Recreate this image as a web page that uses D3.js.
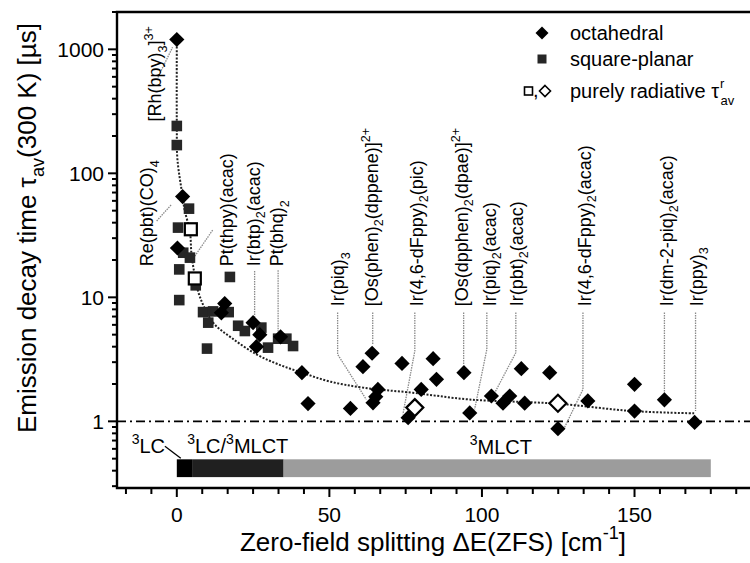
<!DOCTYPE html>
<html><head><meta charset="utf-8">
<script src="https://cdn.jsdelivr.net/npm/d3@7"></script>
<style>body{margin:0;background:#fff}svg{display:block}text{font-family:"Liberation Sans",Arial,sans-serif;fill:#000}</style>
</head><body><svg id="c" width="750" height="563"></svg>
<script>
// ---------------- data ----------------
const octX = [0,1.9,0.2,15.7,14.6,25,27.2,26.1,34,41,43,56.9,61,64,64.3,65.9,65.2,73.8,84,85.1,80.1,75.8,94.1,96,103.1,106.9,109.1,112.9,114,122.2,124.9,134.7,150,150,159.8,169.7];
const octY = [1200,65,25,8.9,7.5,6.25,5.0,4.0,4.8,2.47,1.39,1.27,2.76,3.54,1.41,1.81,1.58,2.93,3.2,2.18,1.81,1.07,2.47,1.17,1.6,1.4,1.6,2.66,1.4,2.47,0.873,1.46,1.99,1.21,1.49,0.98];
const sqX = [0,0,4,0.4,2.1,4.3,0.8,17.4,0.8,6.2,8.6,11.9,10.3,9.9,17,20.1,22.3,27.7,29.9,33.2,35.9,38.1];
const sqY = [241,169,51.9,36.5,22.9,20.9,16.8,14.6,9.5,12.5,7.6,7.7,6.25,3.86,7.6,5.9,5.35,5.7,3.93,4.64,4.64,4.05];
const radSqX = [4.6,5.9], radSqY = [35.4,14.2];
const radDiaX = [78,124.9], radDiaY = [1.29,1.40];
const fitX = [0,0,0.2,1.9,2.6,4.3,4.8,5.9,7.5,11.9,18,26.1,33,41,50,61,77.3,96,124.4,149.4,169.7];
const fitY = [1200,240,130,65,50,34,22.5,15,10.2,6.25,4.7,3.47,2.9,2.47,2.1,1.87,1.7,1.5,1.39,1.21,1.16];
const xMajor = [0,50,100,150];
const yMajor = [1,10,100,1000];
const regionNames = ["^3LC","^3LC/^3MLCT","^3MLCT"];
const regionStart = [0,5,35];
const regionEnd = [5,35,175];
const regionColor = ["#000","#202020","#9c9c9c"];
const labelText = ["[Rh(bpy)_3]^{3+}","Re(pbt)(CO)_4","Pt(thpy)(acac)","Ir(btp)_2(acac)","Pt(bhq)_2",
  "Ir(piq)_3","[Os(phen)_2(dppene)]^{2+}","Ir(4,6-dFppy)_2(pic)","[Os(dpphen)_2(dpae)]^{2+}","Ir(piq)_2(acac)",
  "Ir(pbt)_2(acac)","Ir(4,6-dFppy)_2(acac)","Ir(dm-2-piq)_2(acac)","Ir(ppy)_3"];
const labelX = [-7.2,-9.8,16.3,25,32.8,52.8,63.8,78.5,93.3,102.5,111.3,133.6,160.4,170.2];
const labelBase = [262,17.8,17.8,17.8,17.8,8.46,8.46,8.46,8.46,8.46,8.46,8.46,8.46,8.46];
const leaders = [
  [[-6.2,594],[-1.4,1038]],
  [[-6.6,41.3],[-1.7,56.2]],
  [[5.9,21.5],[11.9,35.3]],
  [[25.5,16.3],[25.5,6.9]],
  [[33.2,16.5],[33.2,5.3]],
  [[52.7,7.56],[52.7,3.47],[62.1,1.5]],
  [[64.2,7.56],[64.2,4.18]],
  [[78,7.56],[78,3.69],[74.1,1.14]],
  [[94,7.56],[94,2.88]],
  [[101.6,7.56],[101.6,3.81],[97.6,1.25]],
  [[111.1,7.56],[111.1,3.58],[104.2,1.70]],
  [[133.1,7.56],[133.1,1.81],[126.5,0.835]],
  [[159.8,7.56],[159.8,1.65]],
  [[170,7.56],[170,1.21]]
];
const legendNames = ["octahedral","square-planar","purely radiative "];

// ---------------- layout ----------------
const W=750,H=563;
const svg=d3.select("#c");
const x=d3.scaleLinear().domain([-19.6,188.5]).range([117,752]);
const y=d3.scaleLog().domain([0.29,2000]).range([488,12]);

function rich(sel,str,size){
  const toks=str.match(/(_\{[^}]*\}|_.|\^\{[^}]*\}|\^.|[^_^]+)/g);
  let off=0;
  toks.forEach(t=>{
    let target=0,txt=t,fs=size;
    if(t[0]==="_"){target=0.3*size;txt=t.slice(1).replace(/[{}]/g,"");fs=size*0.7;}
    else if(t[0]==="^"){target=-0.45*size;txt=t.slice(1).replace(/[{}]/g,"");fs=size*0.7;}
    sel.append("tspan").attr("dy",target-off).attr("font-size",fs).text(txt);
    off=target;
  });
}

// bar regions
svg.append("g").selectAll("rect").data(regionStart).join("rect")
  .attr("x",(d)=>x(d)).attr("width",(d,i)=>x(regionEnd[i])-x(d))
  .attr("y",y(0.494)).attr("height",y(0.355)-y(0.494))
  .attr("fill",(d,i)=>regionColor[i]);

// dash-dot line at 1
svg.append("line").attr("x1",x(-19.6)).attr("x2",W).attr("y1",y(1)).attr("y2",y(1))
  .attr("stroke","#000").attr("stroke-width",1.6).attr("stroke-dasharray","9,4,2,4");

// leaders
const lineGen=d3.line().x(d=>x(d[0])).y(d=>y(d[1]));
svg.append("g").selectAll("path").data(leaders).join("path")
  .attr("d",lineGen).attr("fill","none").attr("stroke","#8a8a8a").attr("stroke-width",1.3)
  .attr("stroke-dasharray","1.5,1");

// fit curve
const fitPts=fitX.map((v,i)=>[v,fitY[i]]);
svg.append("path").datum(fitPts)
  .attr("d",d3.line().x(d=>x(d[0])).y(d=>y(d[1])).curve(d3.curveCatmullRom.alpha(0.5)))
  .attr("fill","none").attr("stroke","#222").attr("stroke-width",2).attr("stroke-dasharray","2,1.6");

// squares
const sq=5.3;
svg.append("g").selectAll("rect").data(sqX).join("rect")
  .attr("x",d=>x(d)-sq).attr("y",(d,i)=>y(sqY[i])-sq).attr("width",2*sq).attr("height",2*sq)
  .attr("fill","#262626");
// diamonds
const dia=r=>`M0,${-r}L${r},0L0,${r}L${-r},0Z`;
svg.append("g").selectAll("path").data(octX).join("path")
  .attr("transform",(d,i)=>`translate(${x(d)},${y(octY[i])})`).attr("d",dia(7.6)).attr("fill","#000");
// radiative
svg.append("g").selectAll("rect").data(radSqX).join("rect")
  .attr("x",d=>x(d)-6).attr("y",(d,i)=>y(radSqY[i])-6).attr("width",12).attr("height",12)
  .attr("fill","#fff").attr("stroke","#000").attr("stroke-width",2.2);
svg.append("g").selectAll("path").data(radDiaX).join("path")
  .attr("transform",(d,i)=>`translate(${x(d)},${y(radDiaY[i])})`).attr("d",dia(8.5))
  .attr("fill","#fff").attr("stroke","#000").attr("stroke-width",2.2);

// compound labels
const LS=18;
labelText.forEach((t,i)=>{
  const tx=svg.append("text").attr("font-size",LS)
    .attr("transform",`translate(${x(labelX[i])+0.36*LS},${y(labelBase[i])}) rotate(-90)`);
  rich(tx,t,LS);
});

// region labels
const RS=20;
const rl=svg.append("g");
const regionLabelPos=[[-14.8,0.552],[3.4,0.552],[96,0.542]];
regionNames.forEach((n,i)=>{
  const t=rl.append("text").attr("font-size",RS).attr("x",x(regionLabelPos[i][0])).attr("y",y(regionLabelPos[i][1]));
  rich(t,n,RS);
});
svg.append("line").attr("x1",x(-3.9)).attr("y1",y(0.629)).attr("x2",x(1.3)).attr("y2",y(0.503))
  .attr("stroke","#000").attr("stroke-width",1.3);

// axes
const xMinor=d3.range(-16,23).map(k=>k*50/6).filter(v=>v>-19.6&&v<188.5);
const xa=svg.append("g").attr("transform",`translate(0,488)`);
xa.selectAll("line").data(xMinor).join("line")
  .attr("x1",d=>x(d)).attr("x2",d=>x(d)).attr("y1",0)
  .attr("y2",d=>xMajor.some(m=>Math.abs(m-d)<1e-6)?9:6).attr("stroke","#000").attr("stroke-width",2);
xa.selectAll("text").data(xMajor).join("text").attr("x",d=>x(d)).attr("y",34)
  .attr("text-anchor","middle").attr("font-size",21).text(d=>d);

const yMinor=[];
[0.1,1,10,100,1000].forEach(b=>{for(let k=1;k<10;k++){const v=b*k;if(v>=0.29&&v<=2000)yMinor.push(v);}});
const ya=svg.append("g").attr("transform",`translate(117,0)`);
ya.selectAll("line").data(yMinor).join("line")
  .attr("y1",d=>y(d)).attr("y2",d=>y(d)).attr("x1",0)
  .attr("x2",d=>yMajor.includes(d)?-9:-5).attr("stroke","#000").attr("stroke-width",2);
ya.selectAll("text").data(yMajor).join("text").attr("x",-13).attr("y",d=>y(d)).attr("dy","0.36em")
  .attr("text-anchor","end").attr("font-size",21).text(d=>d);

// frame
svg.append("path").attr("d",`M752,${y(2000)}H${x(-19.6)}V${y(0.29)}H752`)
  .attr("fill","none").attr("stroke","#000").attr("stroke-width",2.4);

// axis titles
const xt=svg.append("text").attr("x",433).attr("y",551).attr("text-anchor","middle").attr("font-size",26);
rich(xt,"Zero-field splitting ΔE(ZFS) [cm^{-1}]",26);
const yt=svg.append("text").attr("transform","translate(36,228) rotate(-90)").attr("text-anchor","middle").attr("font-size",26);
rich(yt,"Emission decay time τ_{av}(300 K) [µs]",26);

// legend
const lg=svg.append("g");
lg.append("path").attr("transform","translate(542,33)").attr("d",dia(6.5)).attr("fill","#000");
lg.append("rect").attr("x",537.5).attr("y",54.5).attr("width",9).attr("height",9).attr("fill","#262626");
lg.append("rect").attr("x",524.5).attr("y",87).attr("width",8).attr("height",8).attr("fill","#fff").attr("stroke","#000").attr("stroke-width",1.6);
lg.append("text").attr("x",533).attr("y",97).attr("font-size",20).text(",");
lg.append("path").attr("transform","translate(545,91)").attr("d",dia(5.5)).attr("fill","#fff").attr("stroke","#000").attr("stroke-width",1.6);
const lt=lg.selectAll("text.l").data(legendNames).join("text").attr("class","l")
  .attr("x",570).attr("y",(d,i)=>[40,66,98][i]).attr("font-size",20);
lt.append("tspan").text(d=>d);
const last=d3.select(lt.nodes()[2]);
last.append("tspan").text("τ");
last.append("tspan").attr("font-size",13).attr("dy",-10).attr("dx",1).text("r");
last.append("tspan").attr("font-size",13).attr("dy",17).attr("dx",-4).text("av");
</script></body></html>
